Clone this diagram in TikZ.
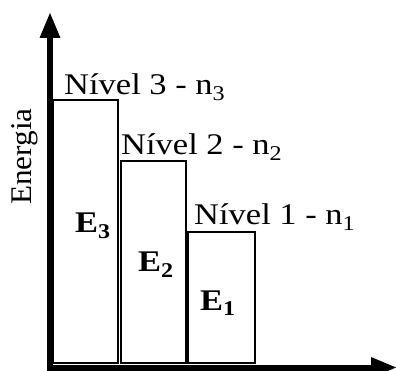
\documentclass[tikz,border=0pt]{standalone}
\usepackage{fontspec}
\setmainfont{Liberation Serif}[FakeStretch=1.15]
\newfontfamily\enfont{Liberation Serif}[FakeStretch=1.04]
\usetikzlibrary{arrows.meta}
\begin{document}
\begin{tikzpicture}[x=1pt,y=-1pt,
  levelbox/.style={draw, line width=2pt},
  lab/.style={anchor=base west, inner sep=0pt, font=\fontsize{30}{31}\selectfont},
  elab/.style={anchor=base west, inner sep=0pt, font=\fontsize{30}{31}\selectfont\bfseries},
  axis/.style={line width=6pt, -{Triangle[length=26pt,width=19pt]}}]
\useasboundingbox (0,0) rectangle (396,371);
% levels
\draw[levelbox] (53,100) rectangle (118,363);
\draw[levelbox] (120.5,161) rectangle (186,363);
\draw[levelbox] (188,232) rectangle (255,363);
% axes
\coordinate (ytip) at (50,12);
\coordinate (ystart) at (50,370.5);
\coordinate (xstart) at (47,367.5);
\coordinate (xtip) at (397,367.5);
\draw[axis] (ystart) -- (ytip);
\draw[axis] (xstart) -- (xtip);
% labels
\node[lab] (l3) at (64,95) {Nível 3 - n\textsubscript{3}};
\node[lab] (l2) at (121,155) {Nível 2 - n\textsubscript{2}};
\node[lab] (l1) at (194,225) {Nível 1 - n\textsubscript{1}};
\node[elab] (e3) at (75,233) {E\textsubscript{3}};
\node[elab] (e2) at (138,272) {E\textsubscript{2}};
\node[elab] (e1) at (200,310) {E\textsubscript{1}};
\node[lab, font=\fontsize{30}{31}\enfont, rotate=90] (en) at (31,205) {Energia};
\end{tikzpicture}
\end{document}
